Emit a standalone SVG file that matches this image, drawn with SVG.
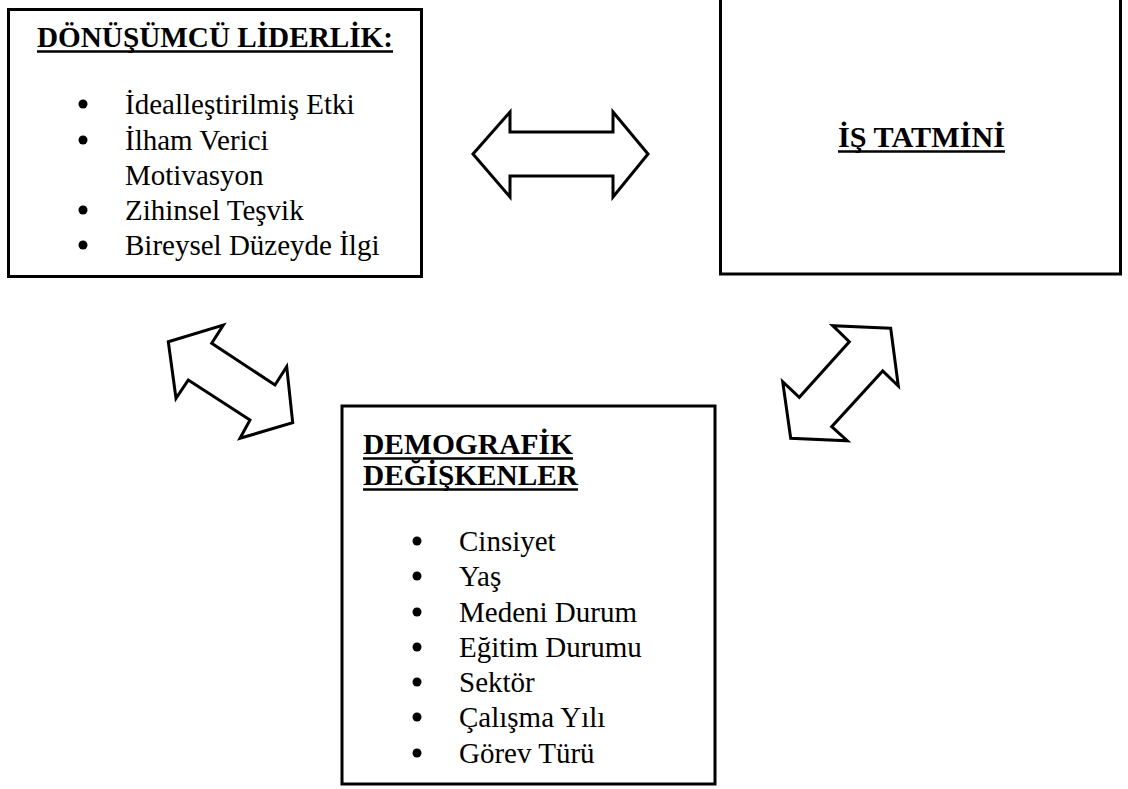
<svg xmlns="http://www.w3.org/2000/svg" width="1128" height="789" viewBox="0 0 1128 789">
<style>
.box{fill:#fff;stroke:#000;stroke-width:3}
.arr{fill:#fff;stroke:#000;stroke-width:3;stroke-linejoin:miter}
.t{font-family:"Liberation Serif","Times New Roman",serif;font-size:29px;fill:#000}
.h{font-family:"Liberation Serif","Times New Roman",serif;font-size:29px;font-weight:bold;fill:#000}
.u{stroke:#000;stroke-width:2.5}
.b{fill:#000}
</style>
<rect width="1128" height="789" fill="#fff"/>
<g id="connectors">
<polygon class="arr" points="473,154 510,112 510,132 613,132 613,112 648,154 613,197 613,176 510,176 510,197"/>
<polygon class="arr" points="168.3,341.7 223.3,325 211.7,343.3 275,385 286.7,366.7 292.7,422.7 240,438.3 250,420 188.3,380 176,398.3"/>
<polygon class="arr" points="890.7,328.3 832.7,325.7 849.3,341.7 799.3,397.3 782.7,381.7 790.7,438.3 847.3,440.7 831.7,426.7 882.7,371 898.3,386"/>
</g>
<g id="donusumcu">
<rect class="box" x="8.5" y="9.5" width="413" height="267"/>
<text class="h" x="37" y="47" textLength="356" lengthAdjust="spacingAndGlyphs">DÖNÜŞÜMCÜ LİDERLİK:</text>
<line class="u" x1="37" y1="51.5" x2="393" y2="51.5"/>
<circle class="b" cx="83" cy="104" r="4.5"/>
<text class="t" x="125" y="114">İdealleştirilmiş Etki</text>
<circle class="b" cx="83" cy="140" r="4.5"/>
<text class="t" x="125" y="150">İlham Verici</text>
<text class="t" x="125" y="185">Motivasyon</text>
<circle class="b" cx="83" cy="210" r="4.5"/>
<text class="t" x="125" y="220">Zihinsel Teşvik</text>
<circle class="b" cx="83" cy="245" r="4.5"/>
<text class="t" x="125" y="255">Bireysel Düzeyde İlgi</text>
</g>
<g id="is-tatmini">
<rect class="box" x="720.5" y="-10" width="400" height="284"/>
<text class="h" x="838" y="147" textLength="167" lengthAdjust="spacingAndGlyphs">İŞ TATMİNİ</text>
<line class="u" x1="838" y1="151.5" x2="1005" y2="151.5"/>
</g>
<g id="demografik">
<rect class="box" x="342" y="406" width="373" height="378"/>
<text class="h" x="363" y="454" textLength="210" lengthAdjust="spacingAndGlyphs">DEMOGRAFİK</text>
<line class="u" x1="363" y1="458.5" x2="573" y2="458.5"/>
<text class="h" x="363" y="485" textLength="215" lengthAdjust="spacingAndGlyphs">DEĞİŞKENLER</text>
<line class="u" x1="363" y1="489.5" x2="578" y2="489.5"/>
<circle class="b" cx="417" cy="541" r="4.5"/>
<text class="t" x="459" y="551">Cinsiyet</text>
<circle class="b" cx="417" cy="576" r="4.5"/>
<text class="t" x="459" y="586">Yaş</text>
<circle class="b" cx="417" cy="612" r="4.5"/>
<text class="t" x="459" y="622">Medeni Durum</text>
<circle class="b" cx="417" cy="647" r="4.5"/>
<text class="t" x="459" y="657">Eğitim Durumu</text>
<circle class="b" cx="417" cy="682" r="4.5"/>
<text class="t" x="459" y="692">Sektör</text>
<circle class="b" cx="417" cy="717" r="4.5"/>
<text class="t" x="459" y="727">Çalışma Yılı</text>
<circle class="b" cx="417" cy="753" r="4.5"/>
<text class="t" x="459" y="763">Görev Türü</text>
</g>
</svg>
